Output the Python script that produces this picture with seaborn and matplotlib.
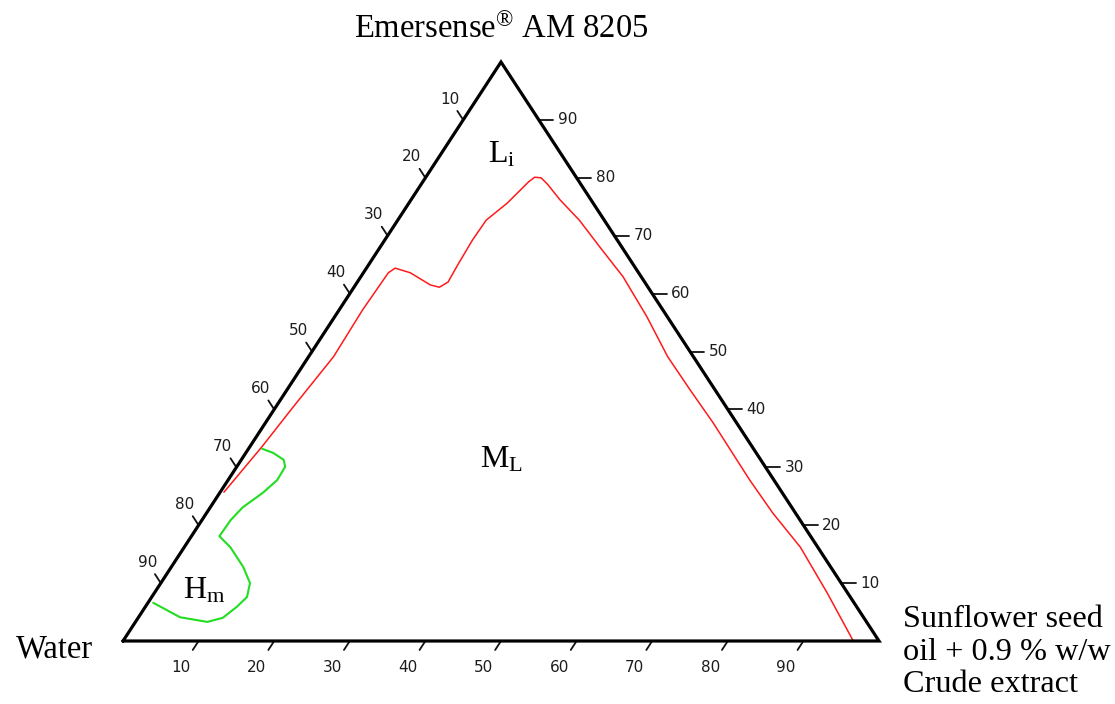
import numpy as np
import pandas as pd
import matplotlib
matplotlib.use("Agg")
import matplotlib.pyplot as plt
import seaborn as sns

# Phase boundaries as compositions in % w/w; water makes up the rest to 100.
# Red: boundary of the liquid-crystal / microemulsion regions
red_oil = [0.5, 1.6, 2.3, 3.3, 3.1, 3.3, 3.8, 6.2, 9.9, 11.3, 12.0, 11.8, 11.6,
           11.7, 13.0, 14.0, 14.4, 15.3, 16.7, 19.7, 24.0, 29.1, 34.7, 41.3,
           47.5, 53.3, 59.2, 69.0, 74.9, 81.5, 89.0, 96.6]
red_surf = [25.7, 33.5, 40.4, 49.1, 57.2, 63.6, 64.4, 63.6, 61.5, 61.1, 62.0,
            64.9, 69.3, 72.7, 75.6, 79.3, 80.1, 80.0, 78.9, 76.2, 72.7, 68.0,
            62.9, 56.0, 49.1, 43.4, 37.7, 27.8, 22.1, 16.2, 8.3, 0.0]

# Green: boundary of the H_m region
green_oil = [1.8, 3.6, 5.6, 6.4, 6.5, 5.7, 4.3, 3.8, 3.7, 6.1, 9.5, 11.8, 12.6,
             12.1, 11.2, 9.5, 5.5, 0.7]
green_surf = [33.2, 32.5, 31.3, 30.1, 27.8, 25.6, 23.1, 20.9, 18.1, 16.2, 12.8,
              10.0, 7.6, 5.9, 4.0, 3.3, 4.1, 6.6]

tick_values = [10, 20, 30, 40, 50, 60, 70, 80, 90]

# Region labels: (text, oil %, surfactant %)
region_labels = [(r"$\mathrm{L_i}$", 8.8, 82.6),
                 (r"$\mathrm{M_L}$", 35.1, 29.9),
                 (r"$\mathrm{H_m}$", 7.1, 7.4)]

title_text = r"Emersense$^{\mathrm{®}}$ AM 8205"
water_text = "Water"
oil_text = "Sunflower seed\noil + 0.9 % w/w\nCrude extract"


def to_xy(oil, surf):
    """Ternary composition (oil %, surfactant %) -> triangle cartesian."""
    oil = np.asarray(oil, dtype=float) / 100.0
    surf = np.asarray(surf, dtype=float) / 100.0
    return oil + surf / 2.0, surf


sns.set_theme(style="white")
plt.rcParams["font.family"] = ["Liberation Serif", "DejaVu Serif"]
plt.rcParams["text.color"] = "black"
plt.rcParams["mathtext.fontset"] = "custom"
plt.rcParams["mathtext.rm"] = "Liberation Serif"
plt.rcParams["mathtext.it"] = "Liberation Serif:italic"
plt.rcParams["mathtext.bf"] = "Liberation Serif:bold"

W, H = 1115, 704
fig = plt.figure(figsize=(W / 100, H / 100), dpi=100)
fig.patch.set_facecolor("white")
ax = fig.add_axes([123 / W, (H - 641) / H, 756 / W, 579 / H])
ax.set_axis_off()

# Phase boundary curves
rx, ry = to_xy(red_oil, red_surf)
gx, gy = to_xy(green_oil, green_surf)
red_df = pd.DataFrame({"x": rx, "y": ry})
green_df = pd.DataFrame({"x": gx, "y": gy})
sns.lineplot(data=red_df, x="x", y="y", sort=False, estimator=None,
             color="#ff1a1a", linewidth=1.1, ax=ax)
sns.lineplot(data=green_df, x="x", y="y", sort=False, estimator=None,
             color="#22dd22", linewidth=1.5, ax=ax)

# Triangle frame
ax.plot([0, 1, 0.5, 0], [0, 0, 1, 0], color="black", linewidth=2.3,
        solid_joinstyle="miter", clip_on=False, zorder=5)

tick_kw = dict(color="#111111", linewidth=1.3, clip_on=False, zorder=4)
lab_kw = dict(fontsize=11, color="#1c1c1c", family="DejaVu Sans")
for v in tick_values:
    # bottom edge: oil %
    bx, by = to_xy(v, 0)
    d = np.array([-0.5, -1.0])
    ax.plot([bx, bx + d[0] * 0.0155], [by, by + d[1] * 0.0155], **tick_kw)
    ax.text(bx + d[0] * 0.046, by + d[1] * 0.046, str(v), ha="center",
            va="center", **lab_kw)
    # left edge: water %
    lx, ly = to_xy(0, 100 - v)
    d = np.array([-0.5, 1.0])
    ax.plot([lx, lx + d[0] * 0.0155], [ly, ly + d[1] * 0.0155], **tick_kw)
    ax.text(lx + d[0] * 0.036, ly + d[1] * 0.036, str(v), ha="center",
            va="center", **lab_kw)
    # right edge: surfactant %
    qx, qy = to_xy(100 - v, v)
    ax.plot([qx, qx + 0.019], [qy, qy], **tick_kw)
    ax.text(qx + 0.025, qy, str(v), ha="left", va="center", **lab_kw)

for txt, o, s in region_labels:
    x, y = to_xy(o, s)
    ax.text(x, y, txt, ha="center", va="baseline", fontsize=23,
            color="black")

big = 23.5
ax.annotate(title_text, xy=(0.5, 1.0), xytext=(0, 17.5),
            textcoords="offset points", ha="center", va="baseline",
            fontsize=big, color="black", annotation_clip=False)
ax.annotate(water_text, xy=(0, 0), xytext=(-21.5, -12.2),
            textcoords="offset points", ha="right", va="baseline",
            fontsize=big, color="black", annotation_clip=False)
ax.annotate(oil_text, xy=(1, 0), xytext=(17.3, -8.0),
            textcoords="offset points", ha="left", va="center",
            fontsize=23.2, linespacing=1.15, color="black",
            annotation_clip=False)

ax.set_xlim(0, 1)
ax.set_ylim(0, 1)
ax.set_xlabel("")
ax.set_ylabel("")

fig.savefig("out.png", dpi=100, facecolor="white")
